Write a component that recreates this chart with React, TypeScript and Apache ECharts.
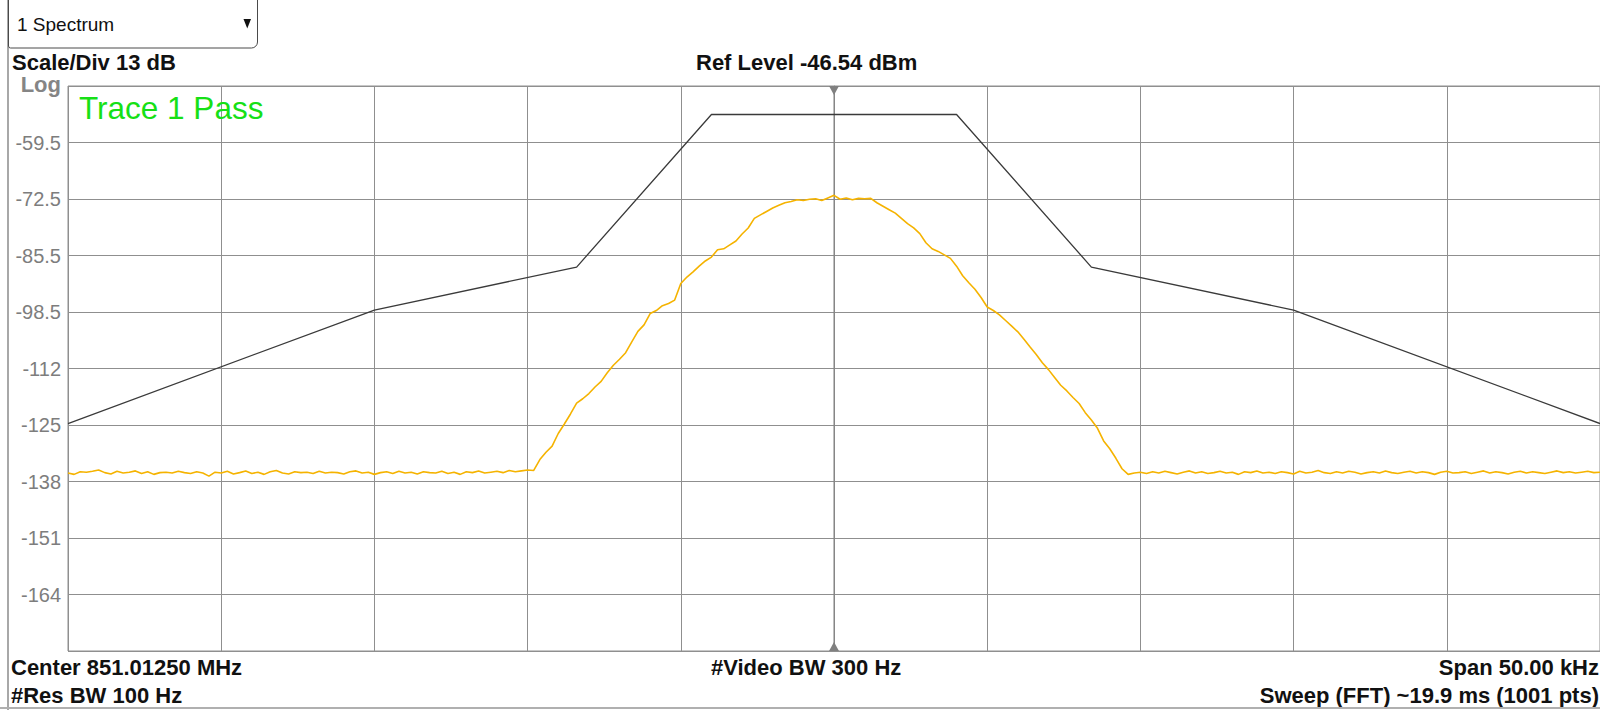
import React, { useEffect, useRef } from "react";
import * as echarts from "echarts";

// ---- Data ----
const REF_LEVEL_DBM = -46.54;
const SCALE_DIV_DB = 13;
const Y_DIVS = 10;
const SPAN_KHZ = 50;
const FREQ_START_KHZ = -25;
const FREQ_STEP_KHZ = 0.2;
const X_DIV_KHZ = 5;

const Y_TICK_LABELS = ["", "-164", "-151", "-138", "-125", "-112", "-98.5", "-85.5", "-72.5", "-59.5", "Log"];

const LIMIT_FREQ_KHZ = [-25, -15, -8.4, -4, 4, 8.4, 15, 25];
const LIMIT_DBM = [-124.2, -98.1, -88.2, -53.1, -53.1, -88.2, -98.1, -124.2];

const MARKER_FREQ_KHZ = 0;

// trace: -25.0 .. -10.0 kHz (0.2 kHz step)
const TRACE_FLOOR_LEFT = [
  -135.6, -135.9, -135.3, -135.4, -135.2, -134.9, -135.5, -135.8, -135.2, -135.6,
  -135.4, -135.1, -135.7, -135.3, -135.9, -135.5, -135.4, -135.6, -135.2, -135.5,
  -135.7, -135.3, -135.6, -136.3, -135.4, -135.6, -135.2, -135.8, -135.5, -135.1,
  -135.7, -135.4, -135.9, -135.3, -135.0, -135.6, -135.8, -135.3, -135.5, -135.4,
  -135.7, -135.2, -135.6, -135.4, -135.5, -135.8, -135.3, -135.1, -135.6, -135.4,
  -135.9, -135.5, -135.3, -135.7, -135.2, -135.6, -135.4, -135.8, -135.3, -135.5,
  -135.6, -135.2, -135.7, -135.4, -135.9, -135.3, -135.5, -135.1, -135.6, -135.4,
  -135.2, -135.5, -135.0, -135.3, -135.1, -134.9,
];
// trace: -9.8 .. 9.8 kHz
const TRACE_BAND = [
  -135.0, -132.5, -130.8, -129.4, -126.5, -124.3, -122.0, -119.5, -118.5, -117.3,
  -115.8, -114.5, -112.5, -110.8, -109.4, -107.9, -105.4, -103.0, -101.5, -98.9,
  -98.2, -97.1, -96.6, -95.8, -92.0, -90.5, -89.3, -88.0, -86.8, -85.9,
  -84.2, -84.0, -83.1, -82.2, -80.6, -79.2, -77.0, -76.2, -75.4, -74.6,
  -74.0, -73.4, -73.1, -72.7, -72.9, -72.6, -72.5, -72.9, -72.3,
  -71.7,
  -72.6, -72.3, -72.7, -72.4, -72.5, -72.4, -73.4, -74.2, -75.0, -75.8,
  -77.0, -78.2, -79.2, -80.5, -82.6, -84.0, -84.6, -85.4, -86.2, -88.0,
  -90.2, -91.8, -93.3, -95.2, -97.4, -98.2, -99.2, -100.5, -101.8, -103.1,
  -104.8, -106.6, -108.3, -110.2, -111.8, -113.6, -115.4, -116.7, -118.2, -119.6,
  -121.7, -123.4, -125.3, -128.2, -130.0, -132.2, -134.6, -135.9, -135.6,
];
// trace: 10.0 .. 25.0 kHz
const TRACE_FLOOR_RIGHT = [
  -135.4, -135.7, -135.3, -135.6, -135.2, -135.5, -135.8, -135.4, -135.1, -135.6,
  -135.3, -135.7, -135.5, -135.2, -135.6, -135.4, -135.9, -135.3, -135.5, -135.1,
  -135.6, -135.4, -135.7, -135.3, -135.5, -135.8, -135.2, -135.6, -135.4, -135.0,
  -135.5, -135.7, -135.3, -135.6, -135.2, -135.4, -135.8, -135.5, -135.3, -135.6,
  -135.1, -135.5, -135.7, -135.4, -135.2, -135.6, -135.3, -135.5, -135.9, -135.4,
  -135.2, -135.6, -135.5, -135.3, -135.7, -135.4, -135.1, -135.6, -135.3, -135.5,
  -135.8, -135.4, -135.2, -135.6, -135.3, -135.5, -135.7, -135.4, -135.1, -135.5,
  -135.3, -135.6, -135.4, -135.2, -135.5, -135.4,
];

const FONT = '"Liberation Sans", Arial, sans-serif';

export default function App() {
  const ref = useRef<HTMLDivElement>(null);

  useEffect(() => {
    document.body.style.margin = "0";
    if (!ref.current) return;
    const chart = echarts.init(ref.current, undefined, { renderer: "svg" });

    const trace = [...TRACE_FLOOR_LEFT, ...TRACE_BAND, ...TRACE_FLOOR_RIGHT];
    const traceData = trace.map((v, i) => [Number((FREQ_START_KHZ + i * FREQ_STEP_KHZ).toFixed(2)), v]);
    const limitData = LIMIT_FREQ_KHZ.map((f, i) => [f, LIMIT_DBM[i]]);
    const yMax = REF_LEVEL_DBM;
    const yMin = Number((REF_LEVEL_DBM - SCALE_DIV_DB * Y_DIVS).toFixed(2));

    const gridColor = "#8f8f8f";

    chart.setOption({
      animation: false,
      backgroundColor: "#ffffff",
      grid: {
        left: 68,
        right: 0,
        top: 86,
        bottom: 59,
        show: true,
        borderColor: gridColor,
        borderWidth: 1,
      },
      xAxis: {
        type: "value",
        min: FREQ_START_KHZ,
        max: FREQ_START_KHZ + SPAN_KHZ,
        interval: X_DIV_KHZ,
        axisLabel: { show: false },
        axisTick: { show: false },
        axisLine: { show: false },
        splitLine: { show: true, lineStyle: { color: gridColor, width: 1 } },
      },
      yAxis: {
        type: "value",
        min: yMin,
        max: yMax,
        interval: SCALE_DIV_DB,
        axisTick: { show: false },
        axisLine: { show: true, lineStyle: { color: gridColor } },
        splitLine: { show: true, lineStyle: { color: gridColor, width: 1 } },
        axisLabel: {
          margin: 7,
          color: "#7d7d7d",
          fontSize: 20,
          fontFamily: FONT,
          formatter: (_v: number, idx: number) => {
            const t = Y_TICK_LABELS[idx] ?? "";
            return t === "Log" ? "{log|Log}" : t;
          },
          rich: {
            log: { fontWeight: "bold", fontSize: 22, color: "#858585", fontFamily: FONT, padding: [0, 0, 4, 0] },
          },
        },
      },
      series: [
        {
          type: "line",
          name: "marker",
          data: [
            [MARKER_FREQ_KHZ, yMax],
            [MARKER_FREQ_KHZ, yMin],
          ],
          symbol: "none",
          lineStyle: { color: "#7f7f7f", width: 1 },
          z: 1,
          markPoint: {
            symbol: "triangle",
            symbolSize: [10, 9],
            label: { show: false },
            itemStyle: { color: "#808080" },
            data: [
              { coord: [MARKER_FREQ_KHZ, yMax], symbolRotate: 180, symbolOffset: [0, 4.5] },
              { coord: [MARKER_FREQ_KHZ, yMin], symbolOffset: [0, -4.5] },
            ],
          },
        },
        {
          type: "line",
          name: "limit",
          data: limitData,
          symbol: "none",
          lineStyle: { color: "#3a3a3a", width: 1.3 },
          z: 3,
        },
        {
          type: "line",
          name: "trace",
          data: traceData,
          symbol: "none",
          lineStyle: { color: "#f5b300", width: 1.6 },
          z: 4,
        },
      ],
      graphic: [
        { type: "rect", shape: { x: 7, y: 0, width: 2, height: 710 }, style: { fill: "#a8a8a8" }, z: 10 },
        { type: "rect", shape: { x: 0, y: 707, width: 1600, height: 2 }, style: { fill: "#b0b0b0" }, z: 10 },
        {
          type: "rect",
          shape: { x: 8.5, y: -10, width: 249, height: 58, r: [0, 0, 6, 2] },
          style: { fill: "#ffffff", stroke: "#4a4a4a", lineWidth: 1 },
          z: 10,
        },
        {
          type: "text",
          x: 17,
          y: 24,
          style: { text: "1 Spectrum", fontSize: 19, fontFamily: FONT, fill: "#111111", verticalAlign: "middle", align: "left" },
          z: 11,
        },
        {
          type: "polygon",
          shape: { points: [[243.5, 19], [251, 19], [247.25, 28.5]] },
          style: { fill: "#111111" },
          z: 11,
        },
        {
          type: "text",
          x: 12,
          y: 62,
          style: { text: "Scale/Div 13 dB", fontSize: 22, fontWeight: "bold", fontFamily: FONT, fill: "#111111", verticalAlign: "middle", align: "left" },
        },
        {
          type: "text",
          x: 696,
          y: 62,
          style: { text: "Ref Level -46.54 dBm", fontSize: 22, fontWeight: "bold", fontFamily: FONT, fill: "#111111", verticalAlign: "middle", align: "left" },
        },
        {
          type: "text",
          x: 79,
          y: 108,
          style: { text: "Trace 1 Pass", fontSize: 31.5, fontFamily: FONT, fill: "#16e016", verticalAlign: "middle", align: "left" },
          z: 12,
        },
        {
          type: "text",
          x: 11,
          y: 667.5,
          style: { text: "Center 851.01250 MHz", fontSize: 22, fontWeight: "bold", fontFamily: FONT, fill: "#111111", verticalAlign: "middle", align: "left" },
        },
        {
          type: "text",
          x: 11,
          y: 695,
          style: { text: "#Res BW 100 Hz", fontSize: 22, fontWeight: "bold", fontFamily: FONT, fill: "#111111", verticalAlign: "middle", align: "left" },
        },
        {
          type: "text",
          x: 711,
          y: 667.5,
          style: { text: "#Video BW 300 Hz", fontSize: 22, fontWeight: "bold", fontFamily: FONT, fill: "#111111", verticalAlign: "middle", align: "left" },
        },
        {
          type: "text",
          x: 1599,
          y: 667.5,
          style: { text: "Span 50.00 kHz", fontSize: 22, fontWeight: "bold", fontFamily: FONT, fill: "#111111", verticalAlign: "middle", align: "right" },
        },
        {
          type: "text",
          x: 1599,
          y: 695,
          style: { text: "Sweep (FFT) ~19.9 ms (1001 pts)", fontSize: 22, fontWeight: "bold", fontFamily: FONT, fill: "#111111", verticalAlign: "middle", align: "right" },
        },
      ],
    });

    return () => chart.dispose();
  }, []);

  return <div ref={ref} style={{ position: "fixed", left: 0, top: 0, width: 1600, height: 710 }} />;
}
